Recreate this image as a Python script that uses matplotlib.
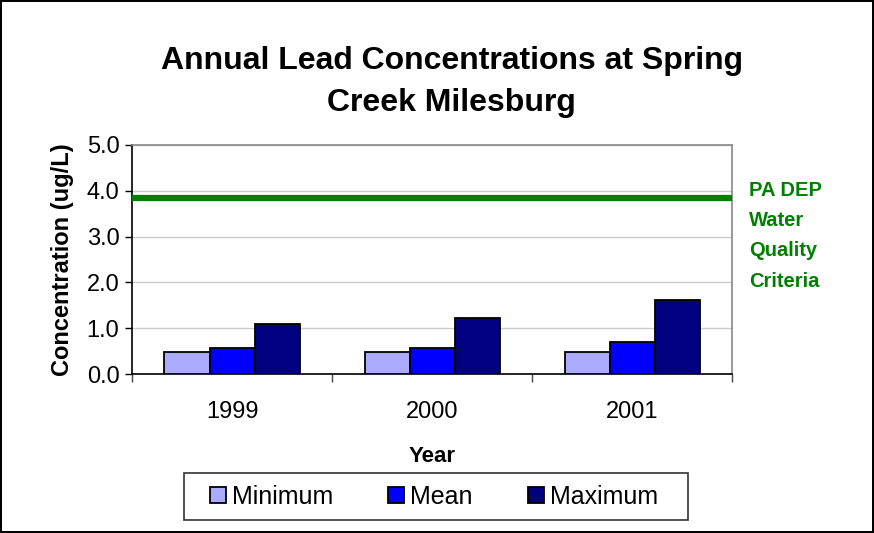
import numpy as np
import matplotlib.pyplot as plt
from matplotlib.ticker import MultipleLocator, FixedLocator, FormatStrFormatter

plt.rcParams['font.family'] = ['Liberation Sans', 'DejaVu Sans']

years = ['1999', '2000', '2001']
minimum = [0.49, 0.49, 0.49]
mean = [0.57, 0.57, 0.70]
maximum = [1.10, 1.23, 1.62]
criteria = 3.85

series = [('Minimum', minimum, '#aaaaff'), ('Mean', mean, '#0000ff'), ('Maximum', maximum, '#000080')]

fig = plt.figure(figsize=(8.74, 5.33), dpi=100)
fig.patch.set_edgecolor('black')
fig.patch.set_linewidth(1.5)
ax = fig.add_axes([0.151, 0.298, 0.687, 0.430])

x = np.arange(len(years))
width = 0.225
for i, (name, vals, col) in enumerate(series):
    ax.bar(x + (i - 1) * width, vals, width, color=col, edgecolor='black',
           linewidth=1.3, label=name, zorder=3)

ax.axhline(criteria, color='#008000', linewidth=4.5, zorder=4)

ax.set_xlim(-0.5, 2.5)
ax.set_ylim(0, 5)
ax.yaxis.set_major_locator(MultipleLocator(1.0))
ax.yaxis.set_major_formatter(FormatStrFormatter('%.1f'))
ax.set_xticks(x)
ax.set_xticklabels(years)
ax.xaxis.set_minor_locator(FixedLocator([-0.5, 0.5, 1.5, 2.5]))
ax.tick_params(axis='x', which='major', length=0, labelsize=17, pad=19)
ax.tick_params(axis='x', which='minor', length=6, width=1, color='#444444')
ax.tick_params(axis='y', length=5, width=1, labelsize=17, pad=4)
ax.grid(axis='y', color='#cccccc', linewidth=1, zorder=0)

for s in ['top', 'right']:
    ax.spines[s].set_color('#888888')
for s in ['left', 'bottom']:
    ax.spines[s].set_color('black')
for s in ax.spines.values():
    s.set_linewidth(1.2)

ax.set_ylabel('Concentration (ug/L)', fontsize=17, fontweight='bold', labelpad=9)
ax.set_xlabel('Year', fontsize=16, fontweight='bold', labelpad=17)

fig.text(0.517, 0.846, 'Annual Lead Concentrations at Spring\nCreek Milesburg',
         ha='center', va='center', fontsize=23, fontweight='bold', linespacing=1.55)

for j, word in enumerate(['PA DEP', 'Water', 'Quality', 'Criteria']):
    fig.text(0.857, 1 - (190 + j * 30.5) / 533, word, color='#008000',
             fontsize=14.5, fontweight='bold', ha='left', va='center')

# legend box drawn separately so its padding matches the original
box = plt.Rectangle((184 / 874, 1 - 520 / 533), 504 / 874, 47 / 533,
                    transform=fig.transFigure, facecolor='white',
                    edgecolor='#333333', linewidth=1.2, zorder=1)
fig.add_artist(box)
leg = fig.legend(loc='center', bbox_to_anchor=(434 / 874, 1 - 497 / 533), ncol=3,
                 fontsize=18, frameon=False, handlelength=0.64, handleheight=0.64,
                 handletextpad=0.25, columnspacing=2.2, borderpad=0)
leg.set_zorder(2)

fig.savefig('out.png', dpi=100)
